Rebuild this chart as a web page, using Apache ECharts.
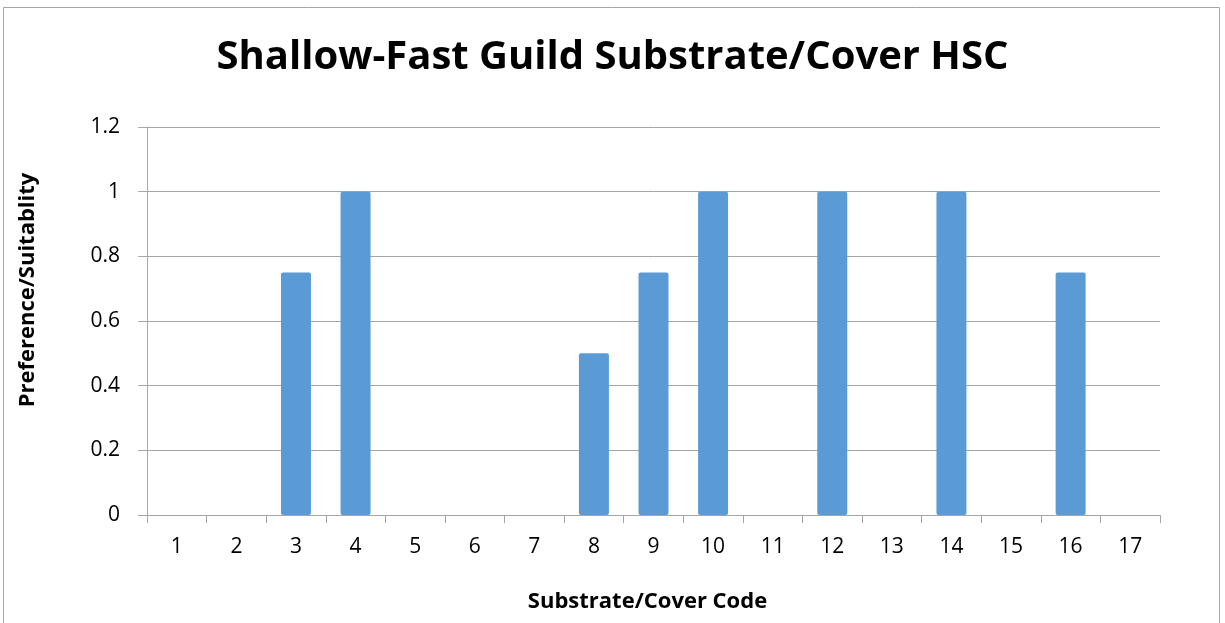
<!DOCTYPE html>
<html><head><meta charset="utf-8">
<script src="https://cdn.jsdelivr.net/npm/echarts@6/dist/echarts.min.js"></script>
<style>html,body{margin:0;padding:0;background:#fff}#c{width:1225px;height:623px}</style>
</head><body><div id="c"></div>
<script>
const categories = ['1','2','3','4','5','6','7','8','9','10','11','12','13','14','15','16','17'];
const values = [0,0,0.75,1,0,0,0,0.5,0.75,1,0,1,0,1,0,0.75,0];
const yTicks = {min:0, max:1.2, interval:0.2};
const FONT = '"Open Sans", "Liberation Sans", sans-serif';
const chart = echarts.init(document.getElementById('c'), null, {renderer:'canvas'});
chart.setOption({
  animation:false,
  backgroundColor:'#fff',
  graphic:[{type:'rect', shape:{x:3.5,y:7.5,width:1216,height:640}, style:{fill:'none',stroke:'#A6A6A6',lineWidth:1}, silent:true}],
  title:{text:'Shallow-Fast Guild Substrate/Cover HSC', left:'center', top:33,
    textStyle:{fontFamily:FONT, fontSize:40, fontWeight:'bold', color:'#000'}},
  grid:{left:147, right:65, top:127, bottom:108},
  xAxis:{type:'category', data:categories, name:'Substrate/Cover Code', nameLocation:'middle', nameGap:76,
    nameTextStyle:{fontFamily:FONT, fontSize:22, fontWeight:'bold', color:'#000', padding:[0,12,0,0]},
    axisLine:{lineStyle:{color:'#A6A6A6'}}, axisTick:{show:true, length:8, lineStyle:{color:'#A6A6A6'}},
    axisLabel:{fontFamily:FONT, fontSize:21, color:'#000', margin:22}},
  yAxis:{type:'value', min:yTicks.min, max:yTicks.max, interval:yTicks.interval,
    name:'Preference/Suitablity', nameLocation:'middle', nameGap:108,
    nameTextStyle:{fontFamily:FONT, fontSize:22, fontWeight:'bold', color:'#000', padding:[0,0,0,62]},
    axisLine:{show:true, lineStyle:{color:'#A6A6A6'}}, axisTick:{show:true, length:9, lineStyle:{color:'#A6A6A6'}},
    axisLabel:{fontFamily:FONT, fontSize:21, color:'#000', margin:27, formatter:v=>String(Math.round(v*10)/10)},
    splitLine:{lineStyle:{color:'#A6A6A6'}}},
  series:[{type:'bar', data:values, barWidth:30, itemStyle:{color:'#5B9BD5', borderRadius:2}}]
});
</script></body></html>
